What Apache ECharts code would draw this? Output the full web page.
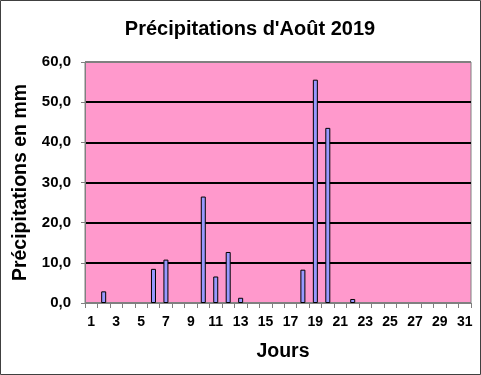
<!DOCTYPE html>
<html><head><meta charset="utf-8">
<script src="https://cdn.jsdelivr.net/npm/echarts@6/dist/echarts.min.js"></script>
<style>html,body{margin:0;padding:0;background:#fff}#c{width:481px;height:375px}</style>
</head><body><div id="c"></div>
<script>
const days = ['1','2','3','4','5','6','7','8','9','10','11','12','13','14','15','16','17','18','19','20','21','22','23','24','25','26','27','28','29','30','31'];
const rain = [0,2.9,0,0,0,8.5,10.8,0,0,26.5,6.6,12.7,1.3,0,0,0,0,8.3,55.6,43.6,0,1.0,0,0,0,0,0,0,0,0,0];
const yTicks = [0,10,20,30,40,50,60];
const titleText = "Précipitations d'Août 2019";
const yName = 'Précipitations en mm';
const xName = 'Jours';
const F = '"Liberation Sans", Arial, sans-serif';
const chart = echarts.init(document.getElementById('c'));
chart.setOption({
  animation:false,
  backgroundColor:'#fff',
  title:{text:titleText,left:245,textAlign:'center',top:14,textStyle:{fontFamily:F,fontSize:20,fontWeight:'bold',color:'#000'}},
  grid:{left:85,right:10,top:62,bottom:72,show:true,backgroundColor:'#FF99CC',borderColor:'#808080',borderWidth:1},
  graphic:[{type:'rect',shape:{x:0.5,y:0.5,width:480,height:374},style:{fill:'none',stroke:'#404040',lineWidth:1},z:100}],
  xAxis:{type:'category',data:days,boundaryGap:true,
    name:xName,nameLocation:'middle',nameGap:39,nameTextStyle:{fontFamily:F,fontSize:19.5,fontWeight:'bold',color:'#000',padding:[0,0,0,10]},
    axisLine:{lineStyle:{color:'#808080',width:1}},
    axisTick:{show:true,interval:0,length:5,lineStyle:{color:'#808080'}},
    axisLabel:{interval:1,margin:12,fontFamily:F,fontSize:14,fontWeight:'bold',color:'#000'},
    splitLine:{show:false}},
  yAxis:{type:'value',min:yTicks[0],max:yTicks[yTicks.length-1],interval:10,
    name:yName,nameLocation:'middle',nameGap:54,nameRotate:90,nameTextStyle:{fontFamily:F,fontSize:19.5,fontWeight:'bold',color:'#000'},
    axisLine:{show:true,lineStyle:{color:'#808080',width:1}},
    axisTick:{show:true,length:4,lineStyle:{color:'#808080'}},
    axisLabel:{margin:14,fontFamily:F,fontSize:15,fontWeight:'bold',color:'#000',formatter:v=>v.toFixed(1).replace('.',',')},
    splitLine:{show:true,lineStyle:{color:['#808080','#000','#000','#000','#000','#000','#808080'],width:2}}},
  series:[{type:'bar',
    data:rain.map(v => v === 0 ? {value:0,itemStyle:{opacity:0,borderWidth:0}} : v),
    barWidth:5,itemStyle:{color:'#9999FF',borderColor:'#000',borderWidth:1}}]
});
</script></body></html>
